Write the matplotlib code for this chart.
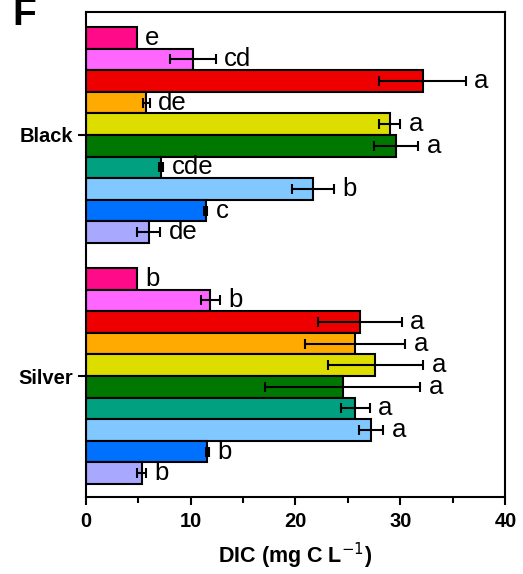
import matplotlib.pyplot as plt
import numpy as np

plt.rcParams["font.family"] = ["Liberation Sans", "DejaVu Sans"]

groups = ["Black", "Silver"]
colors = ["#ff0a88", "#ff66ff", "#ee0000", "#ffaa00", "#dddd00",
          "#007700", "#00a080", "#80c8ff", "#0070ff", "#a8a8ff"]

# DIC means and SE, bars listed top to bottom within each group
black_mean = [4.9, 10.2, 32.1, 5.8, 29.0, 29.6, 7.2, 21.7, 11.45, 6.0]
black_err = [0.0, 2.2, 4.1, 0.3, 1.0, 2.1, 0.2, 2.0, 0.15, 1.1]
black_sig = ["e", "cd", "a", "de", "a", "a", "cde", "b", "c", "de"]

silver_mean = [4.9, 11.9, 26.1, 25.7, 27.6, 24.5, 25.7, 27.2, 11.6, 5.35]
silver_err = [0.0, 0.9, 4.0, 4.75, 4.55, 7.4, 1.4, 1.15, 0.15, 0.4]
silver_sig = ["b", "b", "a", "a", "a", "a", "a", "a", "b", "b"]

fig = plt.figure(figsize=(5.23, 5.74), dpi=100)
ax = fig.add_axes([0.1635, 0.1341, 0.803, 0.845])

h = 0.0896
centers = [1.0, 0.0]
n = len(colors)
for gc, means, errs, sigs in zip(centers,
                                 [black_mean, silver_mean],
                                 [black_err, silver_err],
                                 [black_sig, silver_sig]):
    y = gc + (np.arange(n)[::-1] - (n - 1) / 2) * h
    ax.barh(y, means, height=h, color=colors, edgecolor="black", linewidth=1.5, zorder=2)
    e = np.array(errs)
    m = e > 0
    ax.errorbar(np.array(means)[m], y[m], xerr=e[m], fmt="none", ecolor="black",
                elinewidth=1.5, capsize=3.6, capthick=1.5, zorder=3)
    for yi, mi, ei, s in zip(y, means, errs, sigs):
        ax.annotate(s, (mi + ei, yi), xytext=(6, 0), textcoords="offset points",
                    ha="left", va="center", fontsize=18.5)

ax.set_xlim(0, 40)
ax.set_ylim(-0.502, 1.51)
ax.set_xticks([0, 10, 20, 30, 40])
ax.set_xticks([5, 15, 25, 35], minor=True)
ax.set_yticks(centers)
ax.set_yticklabels(groups, fontsize=14.5, fontweight="bold")
for lab in ax.get_xticklabels():
    lab.set_fontweight("bold")
ax.tick_params(axis="x", labelsize=14.5, width=1.5, length=6, direction="out", pad=5)
ax.tick_params(axis="x", which="minor", width=1.5, length=4)
ax.tick_params(axis="y", width=1.5, length=6, direction="out", pad=3)
for sp in ax.spines.values():
    sp.set_linewidth(1.5)
ax.set_xlabel("DIC (mg C L$^{-1}$)", fontsize=15.5, fontweight="bold", labelpad=7)

fig.text(0.023, 0.9564, "F", fontsize=28, fontweight="bold", va="baseline", ha="left")

fig.savefig("out.png", dpi=100)
